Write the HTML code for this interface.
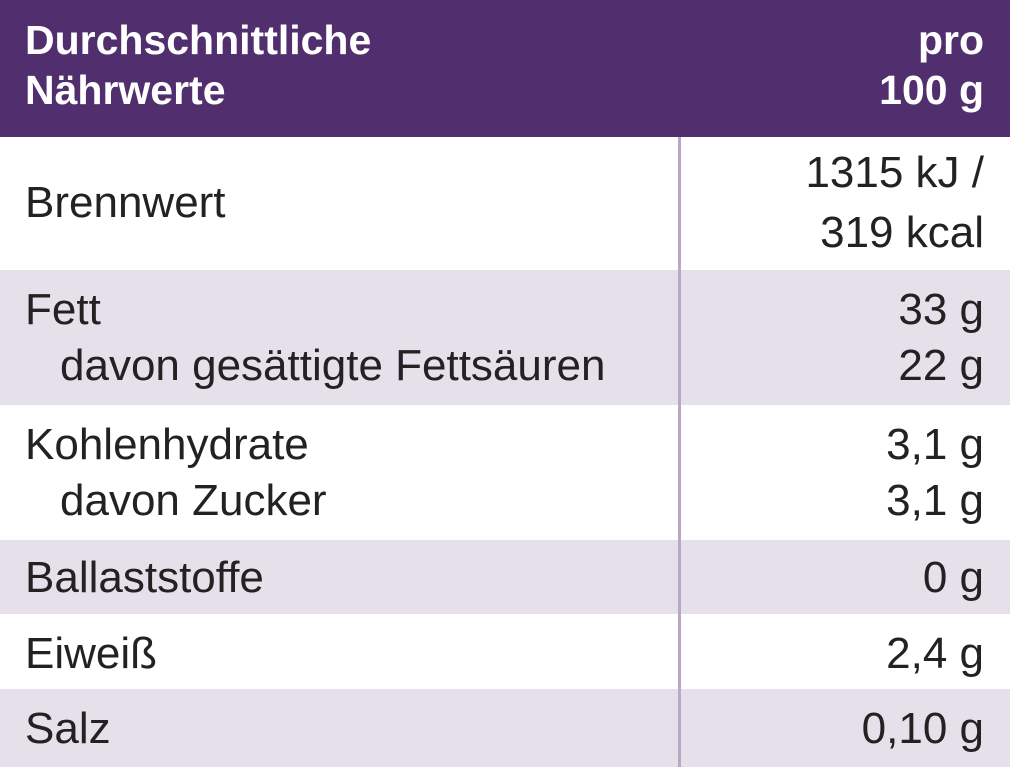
<!DOCTYPE html>
<html><head><meta charset="utf-8"><style>
html,body{margin:0;padding:0;width:1010px;height:767px;overflow:hidden;background:#fff;font-family:"Liberation Sans",sans-serif;}
.row{position:absolute;left:0;width:1010px;}
.hdr{position:absolute;left:0;top:0;width:1010px;height:137px;background:#512f6e;color:#fff;font-weight:bold;font-size:41px;line-height:50px;}
.t{position:absolute;font-size:44px;color:#222;line-height:56px;white-space:nowrap;}
.r{right:26px;text-align:right;}
.grey{background:#e6e0ea;}
.divider{position:absolute;left:678px;top:137px;width:3px;height:630px;background:#b9a7c6;}
</style></head><body>
<div class="hdr">
  <div style="position:absolute;left:25px;top:15px;">Durchschnittliche<br>Nährwerte</div>
  <div style="position:absolute;right:26px;top:15px;text-align:right;">pro<br>100 g</div>
</div>
<div class="row" style="top:137px;height:133px;">
  <div class="t" style="left:25px;top:38px;">Brennwert</div>
  <div class="t r" style="top:6px;line-height:60px;">1315 kJ /<br>319 kcal</div>
</div>
<div class="row grey" style="top:270px;height:135px;">
  <div class="t" style="left:25px;top:12px;">Fett</div>
  <div class="t" style="left:60px;top:68px;">davon gesättigte Fettsäuren</div>
  <div class="t r" style="top:12px;">33 g</div>
  <div class="t r" style="top:68px;">22 g</div>
</div>
<div class="row" style="top:405px;height:135px;">
  <div class="t" style="left:25px;top:12px;">Kohlenhydrate</div>
  <div class="t" style="left:60px;top:68px;">davon Zucker</div>
  <div class="t r" style="top:12px;">3,1 g</div>
  <div class="t r" style="top:68px;">3,1 g</div>
</div>
<div class="row grey" style="top:540px;height:74px;">
  <div class="t" style="left:25px;top:10px;">Ballaststoffe</div>
  <div class="t r" style="top:10px;">0 g</div>
</div>
<div class="row" style="top:614px;height:75px;">
  <div class="t" style="left:25px;top:12px;">Eiweiß</div>
  <div class="t r" style="top:12px;">2,4 g</div>
</div>
<div class="row grey" style="top:689px;height:78px;">
  <div class="t" style="left:25px;top:12px;">Salz</div>
  <div class="t r" style="top:12px;">0,10 g</div>
</div>
<div class="divider"></div>
</body></html>
